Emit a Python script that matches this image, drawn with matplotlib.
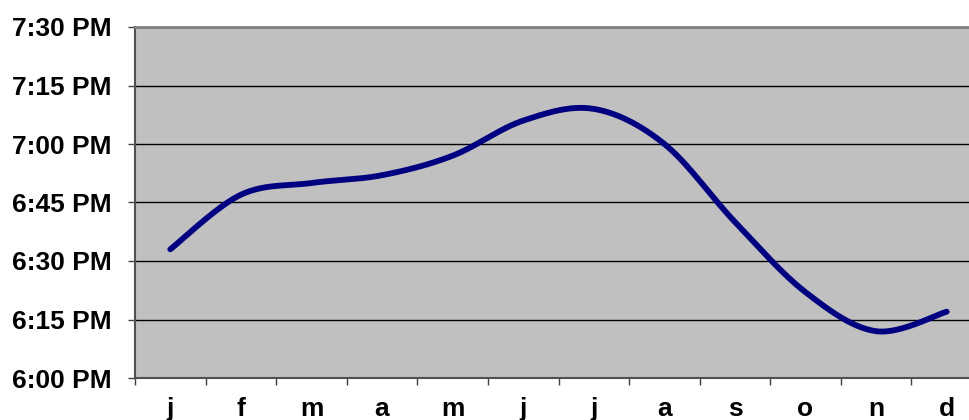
import matplotlib
matplotlib.use('Agg')
import matplotlib.pyplot as plt
import numpy as np

# months and sunset times (minutes after 6:00 PM)
months = ['j', 'f', 'm', 'a', 'm', 'j', 'j', 'a', 's', 'o', 'n', 'd']
sunset_min = [33, 47, 50, 52, 57, 66, 69, 60, 40, 22, 12, 17]
ytick_vals = [0, 15, 30, 45, 60, 75, 90]
ytick_labels = ['6:00 PM', '6:15 PM', '6:30 PM', '6:45 PM', '7:00 PM', '7:15 PM', '7:30 PM']

PLOT_BG = '#C0C0C0'
LINE = '#000080'

plt.rcParams['font.family'] = ['Liberation Sans', 'DejaVu Sans']


def smooth(xs, ys, n=30):
    # Excel-like smoothed line: cubic Bezier, control points at +-(P[i+1]-P[i-1])/6
    P = np.column_stack([xs, ys]).astype(float)
    P = np.vstack([P[0], P, P[-1]])
    out = []
    t = np.linspace(0, 1, n)[:, None]
    for i in range(1, len(P) - 2):
        p0, p3 = P[i], P[i + 1]
        c1 = p0 + (P[i + 1] - P[i - 1]) / 6
        c2 = p3 - (P[i + 2] - P[i]) / 6
        seg = ((1 - t) ** 3) * p0 + 3 * ((1 - t) ** 2) * t * c1 + 3 * (1 - t) * t ** 2 * c2 + t ** 3 * p3
        out.append(seg if i == 1 else seg[1:])
    out = np.vstack(out)
    return out[:, 0], out[:, 1]


fig = plt.figure(figsize=(9.69, 4.2), dpi=100, facecolor='white')
ax = fig.add_axes([135 / 969, 1 - 378 / 420, 847 / 969, 351 / 420])
ax.set_facecolor(PLOT_BG)

x = np.arange(len(months))
sx, sy = smooth(x, sunset_min)
ax.plot(sx, sy, color=LINE, lw=4.2, solid_capstyle='round', zorder=3)

ax.set_xlim(-0.5, len(months) - 0.5)
ax.set_ylim(ytick_vals[0], ytick_vals[-1])

# horizontal gridlines
ax.set_yticks(ytick_vals)
ax.set_yticklabels(ytick_labels, fontsize=19, fontweight='bold')
ax.yaxis.grid(True, color='black', lw=1.0)
ax.set_axisbelow(True)

# category boundaries as ticks, labels in the middle
ax.set_xticks(np.arange(len(months) + 1) - 0.5)
ax.set_xticklabels([])
ax.set_xticks(x, minor=True)
ax.set_xticklabels(months, minor=True, fontsize=19, fontweight='bold')
ax.tick_params(axis='x', which='minor', length=0, pad=14)
ax.tick_params(axis='x', which='major', length=5, width=1, color='#404040')
ax.tick_params(axis='y', length=5, width=1, color='#404040', pad=12)

for s in ['left', 'bottom']:
    ax.spines[s].set_color('#505050')
    ax.spines[s].set_linewidth(1.5)
ax.spines['top'].set_color('#808080')
ax.spines['top'].set_linewidth(2)
ax.spines['right'].set_visible(False)

fig.savefig('out.png', dpi=100, facecolor='white')
